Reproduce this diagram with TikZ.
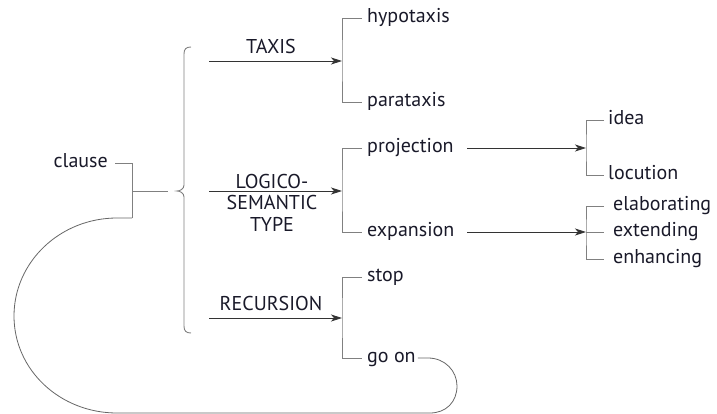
\documentclass[tikz,border=0pt]{standalone}
\usepackage{fontspec}
\setmainfont{PT Sans}
\usetikzlibrary{arrows.meta}
\definecolor{txt}{rgb}{0.1,0.1,0.16}
\definecolor{lnd}{rgb}{0.2,0.2,0.2}
\definecolor{lng}{rgb}{0.5,0.5,0.5}
\begin{document}
\begin{tikzpicture}[x=1pt,y=-1pt,
  lbl/.style={inner sep=0pt,text=txt,font=\fontsize{20}{21.5}\selectfont},
  leaf/.style={lbl,anchor=mid west},
  arr/.style={draw=lnd,line width=0.9pt,-{Stealth[length=11pt,width=7pt,inset=3pt]}},
  brk/.style={draw=lng,line width=0.9pt},
  loopline/.style={draw=lng!80!black,line width=0.8pt}]
\useasboundingbox (0,0) rectangle (717,414);
% root
\node[lbl,anchor=mid east] (clause) at (108,165) {clause};
\coordinate (cj) at (132,191);
\coordinate (cb) at (132,218);
\coordinate (ce) at (168,191);
\coordinate (cs) at (115,163);
\draw[brk] (cs) -| (cb);
\draw[brk] (cj) -- (ce);
% brace
\coordinate (btop) at (191,47);
\coordinate (bbot) at (191,333);
\coordinate (bcusp) at (177,191);
\draw[brk] (btop) .. controls (186,47) and (184,49) .. (184,54) -- (184,185) .. controls (184,189) and (180,191) .. (bcusp)
  .. controls (180,191) and (184,193) .. (184,197) -- (184,326) .. controls (184,331) and (186,333) .. (bbot);
% TAXIS
\coordinate (tA) at (209,61); \coordinate (tB) at (342,61);
\node[lbl] (taxis) at (271,46.5) {TAXIS};
\draw[arr] (tA) -- (tB);
\node[leaf] (hypo) at (367,20) {hypotaxis};
\node[leaf] (para) at (367,104) {parataxis};
\draw[brk] ([xshift=-5pt,yshift=2pt]hypo.mid west) -| (tB) |- ([xshift=-5pt,yshift=2pt]para.mid west);
% LOGICO-SEMANTIC
\coordinate (lA) at (209,191); \coordinate (lB) at (342,191);
\node[lbl,align=center] (logico) at (272,202.5) {LOGICO-\\SEMANTIC\\TYPE};
\draw[arr] (lA) -- (lB);
\node[leaf] (proj) at (367,150) {projection};
\node[leaf] (expa) at (367,234) {expansion};
\draw[brk] ([xshift=-5pt,yshift=2pt]proj.mid west) -| (lB) |- ([xshift=-5pt,yshift=2pt]expa.mid west);
% projection
\coordinate (pB) at (586,148);
\coordinate (pA) at (467,148);
\draw[arr] (pA) -- (pB);
\node[leaf] (idea) at (608,122) {idea};
\node[leaf] (locu) at (608,177) {locution};
\draw[brk] ([xshift=-4pt,yshift=2pt]idea.mid west) -| (pB) |- ([xshift=-4pt,yshift=2pt]locu.mid west);
% expansion
\coordinate (eB) at (586,232);
\coordinate (eA) at (467,232);
\draw[arr] (eA) -- (eB);
\node[leaf] (elab) at (613,208) {elaborating};
\node[leaf] (exte) at (613,234) {extending};
\node[leaf] (enha) at (613,261) {enhancing};
\draw[brk] ([xshift=-9pt,yshift=2pt]elab.mid west) -| (eB) |- ([xshift=-9pt,yshift=2pt]enha.mid west);
\draw[brk] (eB) -- ([xshift=-9pt,yshift=2pt]exte.mid west);
% RECURSION
\coordinate (rA) at (209,318); \coordinate (rB) at (342,318);
\node[lbl] (recu) at (271,303) {RECURSION};
\draw[arr] (rA) -- (rB);
\node[leaf] (stop) at (367,279) {stop};
\node[leaf] (goon) at (367,360) {go on};
\draw[brk] ([xshift=-5pt,yshift=2pt]stop.mid west) -| (rB) |- ([xshift=-5pt,yshift=2pt]goon.mid west);
% loop back
\draw[loopline] ([xshift=2pt,yshift=2pt]goon.mid east) -- (428,358) .. controls (445,358) and (457,371) .. (457,386)
  .. controls (457,402) and (446,413) .. (430,413) -- (117,413)
  .. controls (60,413) and (14,370) .. (14,316) .. controls (14,262) and (60,218) .. (117,218) -- (cb);
\end{tikzpicture}
\end{document}
